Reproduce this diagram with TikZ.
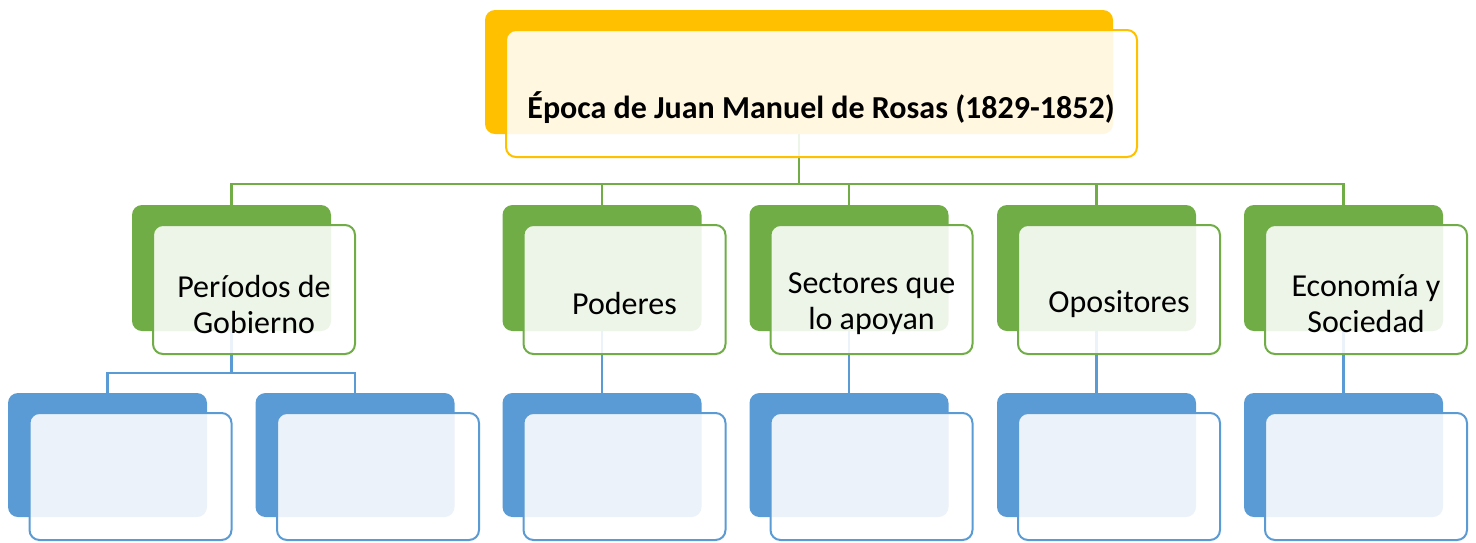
\documentclass[tikz,border=0pt]{standalone}
\usepackage{fontspec}
\setmainfont{Carlito}
\definecolor{gold}{HTML}{FFC000}
\definecolor{lgreen}{HTML}{70AD47}
\definecolor{lblue}{HTML}{5B9BD5}
\tikzset{
  backbox/.style={rectangle, rounded corners=10pt, fill=#1, draw=none, inner sep=0pt,
    minimum width=199pt, minimum height=126pt},
  frontbox/.style={rectangle, rounded corners=10pt, draw=#1, line width=2pt, fill=white,
    fill opacity=0.88, inner sep=0pt, minimum width=202pt, minimum height=129pt},
  conn/.style={draw=#1, line width=2.2pt},
  lbl/.style={font=\fontsize{32}{36}\selectfont, align=center, text=black},
}
\begin{document}
\begin{tikzpicture}[x=1pt,y=-1pt]
\useasboundingbox (0,0) rectangle (1476,542);
% ---------- back boxes
\node[backbox=gold, minimum width=628pt, minimum height=124pt] (tb) at (799,72) {};
\foreach \n/\x in {1/231.5,2/602,3/849,4/1096.5,5/1343.5}{
  \node[backbox=lgreen] (b\n) at (\x,268) {};
}
\foreach \n/\x in {1/107.5,2/355,3/602,4/849,5/1096.5,6/1343.5}{
  \node[backbox=lblue, minimum height=124pt] (c\n) at (\x,455) {};
}
% ---------- connectors
\coordinate (hub) at (799,184);
\coordinate (j1) at (231.5,373);
\draw[conn=lgreen] (tb.south) -- (hub);
\draw[conn=lgreen] (b1.north) |- (hub) -| (b5.north);
\foreach \n in {2,3,4}{ \draw[conn=lgreen] (b\n.north) -- (b\n.north |- hub); }
\draw[conn=lblue] (b1.south) -- (j1);
\draw[conn=lblue] (c1.north) |- (j1) -| (c2.north);
\draw[conn=lblue] (b2.south) -- (c3.north);
\draw[conn=lblue] (b3.south) -- (c4.north);
\draw[conn=lblue] (b4.south) -- (c5.north);
\draw[conn=lblue] (b5.south) -- (c6.north);
% ---------- front boxes
\node[frontbox=gold, minimum width=631pt, minimum height=127pt] (tf) at (821.5,93.5) {};
\foreach \n/\x in {1/254,2/624.5,3/871.5,4/1119,5/1366}{
  \node[frontbox=lgreen] (f\n) at (\x,289.5) {};
}
\foreach \n/\x in {1/130.5,2/378,3/624.5,4/871.5,5/1119,6/1366}{
  \node[frontbox=lblue, minimum height=127pt] (g\n) at (\x,476.5) {};
}
% ---------- texts
\node[lbl, font=\fontsize{32}{36}\selectfont\bfseries, anchor=base] (tt) at (821,118) {Época de Juan Manuel de Rosas (1829-1852)};
\node[lbl] (t1) at (254,304) {Períodos de\\Gobierno};
\node[lbl] (t2) at (624.5,304) {Poderes};
\node[lbl] (t3) at (871.5,304) {Sectores que\\lo apoyan};
\node[lbl] (t4) at (1119,304) {Opositores};
\node[lbl] (t5) at (1366,304) {Economía y\\Sociedad};
\end{tikzpicture}
\end{document}
